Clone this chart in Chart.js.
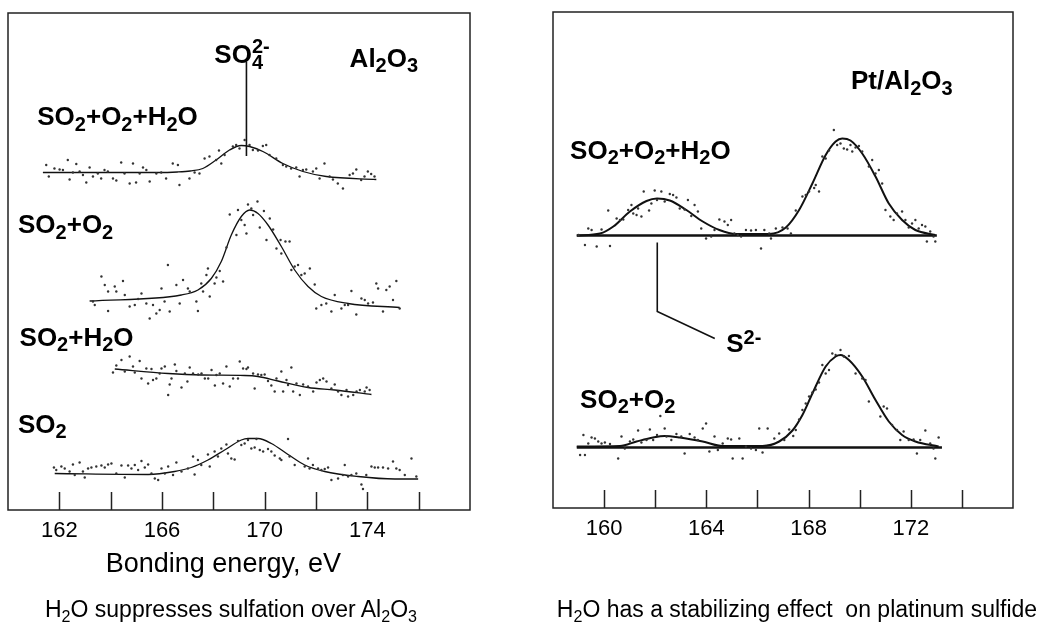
<!DOCTYPE html>
<html>
<head>
<meta charset="utf-8">
<script src="https://cdn.jsdelivr.net/npm/chart.js@4"></script>
<style>
body { margin:0; background:#fff; width:1041px; height:625px; position:relative; overflow:hidden; font-family:"Liberation Sans", Arial, sans-serif; }
canvas { position:absolute; top:0; }
#leftChart { left:0; }
#rightChart { left:530px; }
.caption { position:absolute; top:595px; font-size:23px; line-height:28px; color:#000; white-space:nowrap; text-align:center; }
.caption sub { font-size:0.7em; position:relative; top:0.3em; vertical-align:baseline; line-height:0; }
</style>
</head>
<body>
<canvas id="leftChart" width="500" height="625"></canvas>
<canvas id="rightChart" width="511" height="625"></canvas>
<div class="caption" style="left:31px;width:400px">H<sub>2</sub>O suppresses sulfation over Al<sub>2</sub>O<sub>3</sub></div>
<div class="caption" style="left:547px;width:500px">H<sub>2</sub>O has a stabilizing effect&nbsp; on platinum sulfide</div>
<script>
const FONT = '"Liberation Sans", Arial, sans-serif';

// binding energy axes (eV)
const leftTicks = [162, 164, 166, 168, 170, 172, 174, 176];
const leftTickLabels = [162, 166, 170, 174];
const rightTicks = [160, 162, 164, 166, 168, 170, 172, 174];
const rightTickLabels = [160, 164, 168, 172];

// Al2O3 spectra, [eV, intensity a.u. incl. stacking offset]
const alMixPts = [[161.49,69.0],[161.59,66.7],[161.81,68.3],[162.01,68.1],[162.14,68.0],[162.33,70.0],[162.40,66.1],[162.53,67.5],[162.66,69.2],[162.79,67.7],[162.92,67.0],[163.05,65.5],[163.18,68.5],[163.31,66.7],[163.50,67.3],[163.63,66.3],[163.76,68.0],[163.89,67.7],[164.09,66.3],[164.22,65.9],[164.41,69.5],[164.54,67.3],[164.74,65.3],[164.87,69.3],[164.99,65.5],[165.13,67.3],[165.26,68.5],[165.39,68.0],[165.52,65.7],[165.78,67.3],[165.97,67.5],[166.16,66.3],[166.42,69.3],[166.62,69.0],[166.68,65.0],[167.07,66.3],[167.27,67.5],[167.46,67.3],[167.66,70.3],[167.85,70.7],[168.11,70.0],[168.22,71.9],[168.31,69.3],[168.44,71.0],[168.76,72.7],[168.89,73.0],[169.02,72.3],[169.22,74.0],[169.41,73.0],[169.54,72.0],[169.74,71.9],[169.93,72.8],[170.06,73.0],[170.19,71.0],[170.45,70.3],[170.71,69.0],[170.84,68.7],[171.03,68.3],[171.23,68.5],[171.36,66.7],[171.49,68.0],[171.62,68.1],[171.88,67.7],[172.01,68.3],[172.14,66.3],[172.33,69.3],[172.53,66.7],[172.66,66.1],[172.85,65.3],[173.05,64.3],[173.31,67.0],[173.44,67.3],[173.57,68.1],[173.76,66.0],[173.89,66.7],[174.02,67.7],[174.15,67.2],[174.28,66.7]];
const alMixFit = [[161.36,67.5],[165.8,67.5],[166.6,67.6],[167.1,67.8],[167.59,68.3],[168.11,70.0],[168.63,72.0],[169.09,72.9],[169.41,72.7],[169.93,71.7],[170.71,69.3],[171.49,67.7],[172.40,66.7],[174.35,66.1]];

const alO2Pts = [[163.31,41.7],[163.38,41.0],[163.64,46.7],[163.77,45.0],[163.90,43.7],[163.90,39.8],[164.16,44.7],[164.22,43.7],[164.48,45.8],[164.55,43.0],[164.74,40.7],[164.94,41.0],[165.07,42.2],[165.20,43.3],[165.39,41.3],[165.52,38.3],[165.65,41.0],[165.78,39.3],[165.91,40.0],[165.98,44.3],[166.10,41.7],[166.23,49.0],[166.30,39.7],[166.56,45.0],[166.69,41.3],[166.82,46.0],[167.01,44.3],[167.08,43.7],[167.34,41.7],[167.40,39.8],[167.53,45.3],[167.60,43.7],[167.73,47.0],[167.79,48.3],[167.86,42.7],[168.05,45.3],[168.12,46.5],[168.25,47.8],[168.38,45.7],[168.51,52.5],[168.64,59.1],[168.90,55.0],[168.96,60.0],[169.09,58.0],[169.22,57.0],[169.29,55.3],[169.35,61.1],[169.48,60.3],[169.55,59.0],[169.72,61.7],[169.81,56.5],[169.97,59.8],[170.07,54.0],[170.20,58.3],[170.33,56.1],[170.46,52.3],[170.62,54.0],[170.65,51.3],[170.81,53.7],[170.97,53.7],[171.04,48.0],[171.17,48.7],[171.30,49.0],[171.43,47.0],[171.56,47.3],[171.76,48.3],[171.95,45.1],[172.01,40.3],[172.21,41.0],[172.40,41.3],[172.60,39.7],[172.73,43.0],[172.99,40.3],[173.12,41.0],[173.25,41.0],[173.38,43.8],[173.57,39.1],[173.77,42.3],[173.90,42.0],[174.03,41.3],[174.22,41.5],[174.35,45.3],[174.42,44.3],[174.61,39.7],[174.74,44.0],[174.87,44.7],[175.00,42.0],[175.13,45.8],[175.26,40.3]];
const alO2Fit = [[163.18,41.8],[166.75,43.0],[167.40,44.0],[167.92,46.3],[168.31,49.7],[168.70,55.0],[169.09,58.7],[169.42,60.0],[169.74,59.3],[170.13,57.0],[170.65,52.7],[171.17,48.0],[171.69,44.7],[172.21,42.7],[173.25,41.3],[175.26,40.5]];

const alH2OPts = [[164.09,27.5],[164.22,28.9],[164.42,30.0],[164.55,27.7],[164.74,30.7],[164.87,28.7],[164.94,27.5],[165.13,29.8],[165.20,26.3],[165.39,28.3],[165.46,25.3],[165.59,28.2],[165.65,26.0],[165.78,26.3],[165.91,27.3],[165.98,28.3],[166.11,28.7],[166.24,23.0],[166.30,25.1],[166.37,26.3],[166.50,29.1],[166.56,27.8],[166.76,24.5],[166.89,27.3],[166.99,25.7],[167.08,28.5],[167.21,27.3],[167.41,27.1],[167.54,27.3],[167.67,26.3],[167.80,26.3],[167.93,28.0],[168.06,24.9],[168.12,27.0],[168.25,27.3],[168.38,25.3],[168.51,28.7],[168.64,24.7],[168.77,26.3],[168.96,26.3],[169.03,29.7],[169.16,28.3],[169.29,28.2],[169.35,28.5],[169.55,27.3],[169.61,24.3],[169.74,27.1],[169.87,27.0],[170.00,27.1],[170.13,25.8],[170.26,24.9],[170.39,23.7],[170.46,26.3],[170.65,27.7],[170.72,23.7],[170.85,26.0],[170.91,25.0],[171.04,28.5],[171.11,23.7],[171.24,25.3],[171.37,23.0],[171.50,25.1],[171.69,24.7],[171.89,23.7],[172.02,25.5],[172.15,26.0],[172.28,26.3],[172.41,25.7],[172.60,24.3],[172.73,25.1],[172.86,23.7],[172.99,23.0],[173.19,24.0],[173.25,22.7],[173.45,23.0],[173.58,23.7],[173.71,24.0],[173.90,23.7],[173.97,24.5],[174.09,24.0]];
const alH2OFit = [[164.16,28.2],[166.24,27.3],[167.54,27.0],[169.22,26.9],[169.74,26.7],[170.52,25.8],[171.69,24.5],[172.73,24.0],[174.16,23.1]];

const alSO2Pts = [[161.79,8.5],[161.88,8.0],[162.08,8.7],[162.21,8.3],[162.40,7.7],[162.53,9.1],[162.60,7.0],[162.79,9.5],[162.92,7.7],[162.99,6.5],[163.12,8.3],[163.25,8.5],[163.44,8.7],[163.64,8.9],[163.77,8.5],[163.90,9.1],[164.03,9.3],[164.22,7.3],[164.42,8.9],[164.55,6.5],[164.68,8.9],[164.81,8.3],[164.94,9.0],[165.07,8.0],[165.20,9.8],[165.33,8.5],[165.46,9.1],[165.59,7.3],[165.72,6.3],[165.85,6.0],[165.98,8.3],[166.11,7.3],[166.24,8.7],[166.43,7.0],[166.56,9.5],[166.76,7.7],[167.01,8.3],[167.21,10.7],[167.27,7.1],[167.40,10.0],[167.53,9.0],[167.79,11.1],[167.86,8.7],[168.05,11.7],[168.18,10.7],[168.31,12.3],[168.51,13.1],[168.57,11.3],[168.70,10.3],[168.83,10.1],[168.96,13.8],[169.09,13.0],[169.22,13.3],[169.35,14.0],[169.48,12.3],[169.61,12.5],[169.68,14.2],[169.81,12.0],[169.94,11.7],[170.13,12.2],[170.26,11.7],[170.39,10.9],[170.59,10.3],[170.65,10.0],[170.91,14.2],[170.97,10.7],[171.17,9.0],[171.56,8.7],[171.69,10.3],[171.75,8.3],[171.88,9.0],[172.08,8.3],[172.21,8.0],[172.34,8.2],[172.47,8.5],[172.60,6.0],[172.86,6.3],[173.05,7.0],[173.12,9.0],[173.25,6.7],[173.38,7.0],[173.57,7.3],[173.77,5.1],[173.83,4.2],[173.96,7.0],[174.16,8.7],[174.29,8.5],[174.42,8.5],[174.61,8.5],[174.81,8.3],[175.00,9.7],[175.13,8.3],[175.26,8.0],[175.46,7.0],[175.72,10.3],[175.91,6.7]];
const alSO2Fit = [[161.82,7.3],[165.46,7.1],[166.49,7.7],[167.14,8.5],[167.79,10.0],[168.44,12.0],[169.09,14.0],[169.35,14.3],[169.74,14.3],[170.26,13.3],[170.91,11.1],[171.56,9.0],[172.34,7.7],[173.64,6.7],[175.07,6.2],[175.98,6.2]];

// SO4(2-) marker
const so4Mark = [[169.29,89.6],[169.29,70.8]];

// Pt/Al2O3 spectra
const ptMixPts = [[159.00,54.6],[159.25,52.6],[159.38,55.9],[159.51,55.6],[159.71,52.3],[159.90,55.7],[160.16,59.5],[160.23,52.4],[160.49,57.9],[160.62,57.6],[160.75,57.7],[160.94,59.6],[161.07,60.6],[161.14,58.9],[161.27,58.6],[161.33,59.9],[161.46,58.3],[161.55,63.3],[161.76,59.5],[161.85,60.9],[161.98,63.5],[162.07,61.6],[162.24,63.3],[162.37,61.3],[162.57,62.8],[162.70,62.6],[162.83,62.1],[162.96,59.9],[163.15,59.7],[163.28,61.6],[163.41,58.4],[163.54,60.6],[163.67,59.3],[163.80,55.9],[163.99,53.9],[164.19,54.3],[164.32,55.6],[164.51,57.7],[164.71,57.3],[164.84,56.6],[164.97,57.6],[165.10,54.9],[165.23,54.6],[165.36,54.3],[165.55,55.6],[165.75,55.5],[165.94,55.6],[166.14,51.9],[166.27,55.6],[166.46,54.9],[166.53,53.9],[166.72,55.9],[166.98,56.1],[167.18,55.9],[167.31,54.9],[167.50,59.5],[167.76,62.3],[167.89,62.6],[168.02,63.3],[168.22,64.0],[168.28,64.6],[168.41,63.3],[168.54,70.3],[168.67,69.9],[168.80,71.5],[168.99,75.6],[169.12,72.6],[169.25,72.9],[169.38,71.9],[169.51,71.7],[169.64,72.6],[169.71,71.3],[169.84,72.1],[169.97,72.4],[170.10,71.3],[170.36,68.3],[170.49,69.6],[170.62,66.9],[170.75,67.6],[170.88,64.9],[171.01,59.6],[171.20,58.3],[171.33,57.6],[171.46,58.9],[171.66,59.3],[171.79,57.6],[171.92,56.1],[172.05,56.9],[172.18,57.6],[172.31,55.9],[172.44,56.6],[172.57,56.3],[172.63,53.3],[172.76,55.3],[172.89,54.3],[172.96,53.3]];
const ptMixFit = [[158.93,54.5],[159.84,54.9],[160.36,56.3],[161.01,59.3],[161.66,61.4],[162.07,61.9],[162.57,61.5],[163.22,59.6],[163.86,57.3],[164.51,55.6],[165.16,54.8],[166.46,54.8],[167.11,56.1],[167.63,59.6],[168.15,64.9],[168.67,70.6],[169.06,73.3],[169.32,73.9],[169.64,73.5],[170.10,70.9],[170.62,66.3],[171.14,60.9],[171.66,57.6],[172.18,55.6],[172.96,54.6]];
const ptMixBase = [[158.93,54.5],[173.02,54.5]];

const ptO2Pts = [[159.06,10.6],[159.19,14.6],[159.25,10.6],[159.38,12.9],[159.51,14.1],[159.64,13.9],[159.77,13.3],[159.90,12.9],[160.03,13.1],[160.23,12.8],[160.55,9.9],[160.68,14.3],[160.81,11.9],[161.01,13.3],[161.14,13.7],[161.33,15.5],[161.46,13.1],[161.66,13.6],[161.79,15.7],[161.92,13.6],[162.07,14.6],[162.20,18.4],[162.37,15.9],[162.44,14.3],[162.63,13.6],[162.83,14.8],[163.02,14.3],[163.15,10.9],[163.35,14.8],[163.54,14.1],[163.67,13.6],[163.86,15.9],[163.99,16.9],[164.12,11.3],[164.32,14.3],[164.45,11.6],[164.64,12.9],[164.84,13.9],[164.97,13.7],[165.03,9.9],[165.29,13.9],[165.42,9.9],[165.55,12.3],[165.75,11.9],[165.94,11.6],[166.07,15.9],[166.20,11.1],[166.40,15.9],[166.66,13.9],[166.85,14.9],[167.05,13.6],[167.24,15.7],[167.40,14.4],[167.50,15.6],[167.63,17.7],[167.76,19.6],[167.89,20.9],[168.02,22.3],[168.15,23.1],[168.28,23.7],[168.41,25.1],[168.54,28.6],[168.67,26.9],[168.80,27.6],[168.93,30.9],[169.06,30.6],[169.25,31.6],[169.38,30.3],[169.58,30.4],[169.84,26.9],[170.10,25.9],[170.23,25.6],[170.36,21.3],[170.81,18.3],[170.94,20.3],[171.07,19.9],[171.27,16.6],[171.46,15.6],[171.59,13.6],[171.72,15.3],[171.92,13.6],[172.11,13.7],[172.24,10.9],[172.37,13.6],[172.57,15.5],[172.76,12.9],[172.89,11.9],[172.96,9.9],[173.09,14.1]];
const ptO2Fit = [[158.93,12.3],[160.62,12.4],[161.27,13.3],[161.92,14.1],[162.37,14.4],[162.96,14.1],[163.86,13.3],[164.64,12.4],[166.20,12.4],[166.85,13.3],[167.37,15.5],[167.76,18.6],[168.15,22.9],[168.67,28.3],[169.06,30.3],[169.25,30.6],[169.58,29.6],[170.10,26.3],[170.62,21.6],[171.14,17.3],[171.66,14.6],[172.18,13.3],[173.09,12.3]];
const ptO2Base = [[158.93,12.1],[173.22,12.1]];

// S(2-) callout
const s2Mark = [[162.08,53.1],[162.08,39.3],[164.33,33.9]];

const pts = arr => arr.map(([x, y]) => ({ x, y }));
const dots = arr => ({ data: pts(arr), showLine: false, pointRadius: 1.2, pointBackgroundColor: '#333', pointBorderWidth: 0 });
const curve = (arr, w) => ({ data: pts(arr), showLine: true, borderColor: '#111', borderWidth: w, pointRadius: 0, cubicInterpolationMode: 'monotone', fill: false });
const straight = (arr, w) => ({ data: pts(arr), showLine: true, borderColor: '#111', borderWidth: w, pointRadius: 0, tension: 0, fill: false });

// text with _x subscripts and ^{..} superscripts (stacked over a preceding subscript)
function drawRich(ctx, str, x, y, size, weight) {
  const small = Math.round(size * 0.75);
  let cx = x, subStart = null;
  for (let i = 0; i < str.length; i++) {
    let ch = str[i];
    if (ch === '_') {
      ch = str[++i];
      ctx.font = `${weight} ${small}px ${FONT}`;
      subStart = cx;
      ctx.fillText(ch, cx, y + size * 0.22);
      cx += ctx.measureText(ch).width;
    } else if (ch === '^') {
      const end = str.indexOf('}', i);
      const t = str.slice(i + 2, end);
      i = end;
      ctx.font = `${weight} ${small}px ${FONT}`;
      const sx = subStart !== null ? subStart : cx;
      ctx.fillText(t, sx, y - size * (subStart !== null ? 0.38 : 0.3));
      cx = Math.max(cx, sx + ctx.measureText(t).width);
      subStart = null;
    } else {
      ctx.font = `${weight} ${size}px ${FONT}`;
      ctx.fillText(ch, cx, y);
      cx += ctx.measureText(ch).width;
      subStart = null;
    }
  }
}

const framePlugin = {
  id: 'frame',
  afterDatasetsDraw(chart, args, opts) {
    const { ctx, chartArea: a, scales: { x, y } } = chart;
    ctx.save();
    ctx.strokeStyle = '#222';
    ctx.lineWidth = 1.5;
    ctx.strokeRect(a.left, a.top, a.right - a.left, a.bottom - a.top);
    ctx.beginPath();
    opts.ticks.forEach(v => {
      const px = Math.round(x.getPixelForValue(v)) + 0.5;
      ctx.moveTo(px, a.bottom);
      ctx.lineTo(px, a.bottom - 18);
    });
    ctx.stroke();
    ctx.fillStyle = '#000';
    ctx.textBaseline = 'alphabetic';
    ctx.textAlign = 'left';
    opts.labels.forEach(l => drawRich(ctx, l.text, x.getPixelForValue(l.x), y.getPixelForValue(l.y), 26, 'bold'));
    if (opts.title) {
      ctx.font = `27px ${FONT}`;
      ctx.textAlign = 'center';
      ctx.textBaseline = 'middle';
      ctx.fillText(opts.title.text, x.getPixelForValue(opts.title.x), a.bottom + 55);
    }
    ctx.restore();
  }
};

function makeChart(id, datasets, xMin, xMax, yMax, tickLabels, pad, axisH, frameOpts) {
  return new Chart(document.getElementById(id), {
    type: 'scatter',
    data: { datasets },
    plugins: [framePlugin],
    options: {
      responsive: false,
      animation: false,
      events: [],
      layout: { padding: pad },
      plugins: { legend: { display: false }, tooltip: { enabled: false }, frame: frameOpts },
      scales: {
        x: {
          type: 'linear', min: xMin, max: xMax,
          border: { display: false },
          grid: { display: false, drawTicks: false },
          ticks: {
            stepSize: 2, autoSkip: false, maxRotation: 0, padding: 8, color: '#000',
            font: { size: 22, family: FONT },
            callback: v => tickLabels.includes(v) ? String(v) : ''
          },
          afterFit: s => { s.height = axisH; }
        },
        y: { display: false, min: 0, max: yMax }
      }
    }
  });
}

makeChart('leftChart', [
  dots(alMixPts), curve(alMixFit, 1.3),
  dots(alO2Pts), curve(alO2Fit, 1.3),
  dots(alH2OPts), curve(alH2OFit, 1.3),
  dots(alSO2Pts), curve(alSO2Fit, 1.3),
  straight(so4Mark, 1.6)
], 160, 178, 99.4, leftTickLabels, { left: 8, right: 30, top: 13, bottom: 43 }, 72, {
  ticks: leftTicks,
  labels: [
    { text: 'SO_4^{2-}', x: 168.04, y: 89.4 },
    { text: 'Al_2O_3', x: 173.31, y: 88.7 },
    { text: 'SO_2+O_2+H_2O', x: 161.14, y: 77.0 },
    { text: 'SO_2+O_2', x: 160.39, y: 55.4 },
    { text: 'SO_2+H_2O', x: 160.45, y: 32.9 },
    { text: 'SO_2', x: 160.39, y: 15.5 }
  ],
  title: { text: 'Bonding energy, eV', x: 168.39 }
});

makeChart('rightChart', [
  dots(ptMixPts), curve(ptMixFit, 2), straight(ptMixBase, 2.5),
  dots(ptO2Pts), curve(ptO2Fit, 2), straight(ptO2Base, 2.5),
  straight(s2Mark, 1.6)
], 158, 176, 99.2, rightTickLabels, { left: 23, right: 28, top: 12, bottom: 57 }, 60, {
  ticks: rightTicks,
  labels: [
    { text: 'Pt/Al_2O_3', x: 169.66, y: 83.8 },
    { text: 'SO_2+O_2+H_2O', x: 158.67, y: 69.9 },
    { text: 'S^{2-}', x: 164.78, y: 31.3 },
    { text: 'SO_2+O_2', x: 159.06, y: 20.1 }
  ]
});
</script>
</body>
</html>
